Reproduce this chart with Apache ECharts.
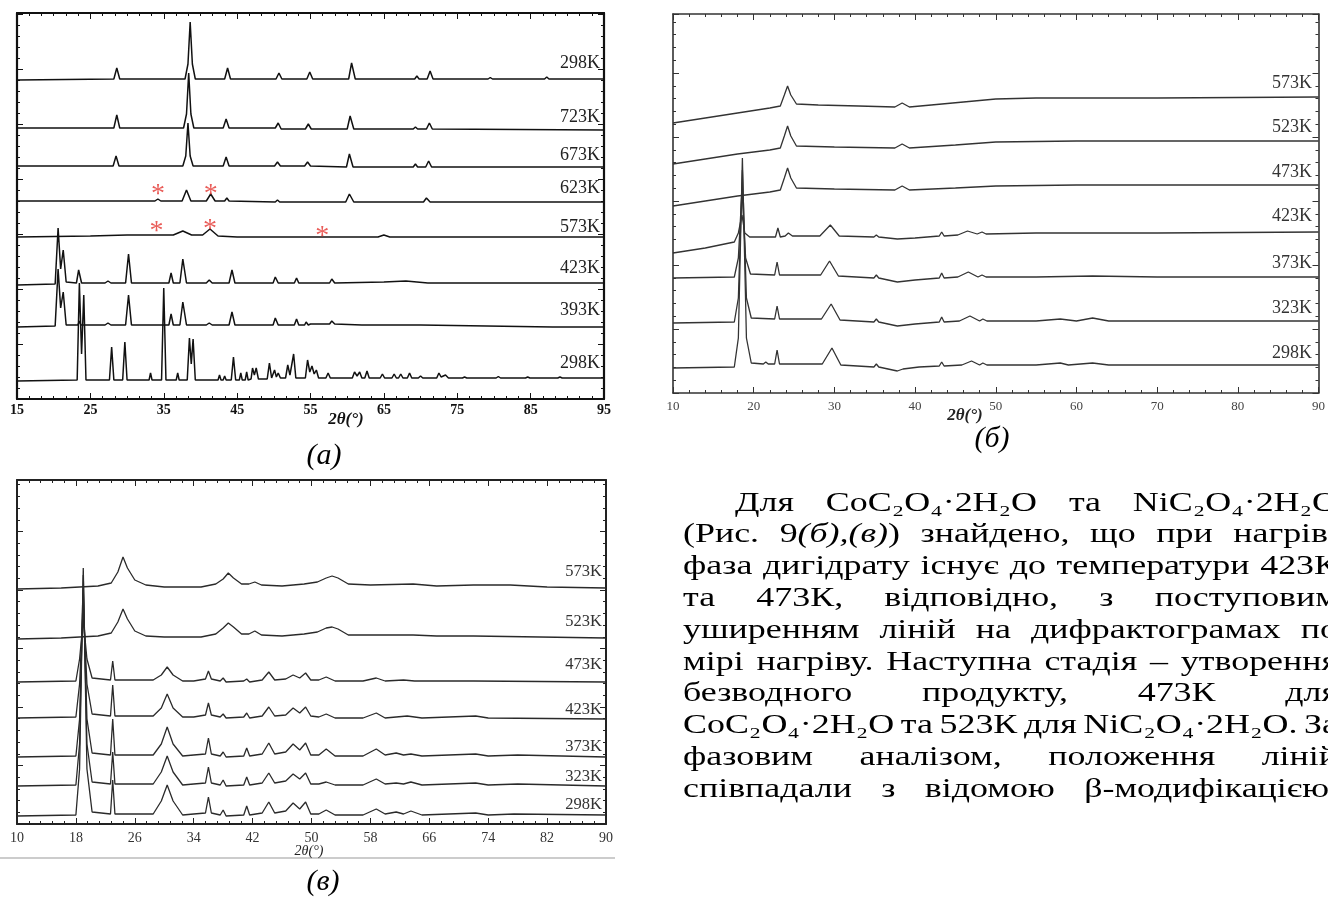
<!DOCTYPE html>
<html><head><meta charset="utf-8">
<script src="https://cdn.jsdelivr.net/npm/echarts/dist/echarts.min.js"></script>
<style>html,body{margin:0;padding:0;background:#fff}#c{width:1328px;height:897px}</style>
</head><body><div id="c"></div>
<script>
// ---------------- DATA (2θ in degrees, intensity in arbitrary stacked units) ----------------
// Panel (a)
const aLabels = ['298K','723K','673K','623K','573K','423K','393K','298K'];
const a298top = [[15,319],[28.2,320],[28.6,331],[29.0,320],[37.9,320],[38.3,335],[38.6,377],[38.9,335],[39.3,320],[43.3,320],[43.7,331],[44.1,320],[50.3,320],[50.7,326],[51.1,320],[54.5,320],[54.9,327],[55.3,320],[60.2,320],[60.6,336],[61.1,320],[69.2,320],[69.5,323],[69.8,320],[70.9,320],[71.3,328],[71.7,320],[72.6,320],[72.8,322],[73.0,320],[79.2,320],[79.5,321.5],[79.8,320],[86.9,320],[87.2,322],[87.5,320],[95,320]];
const a723 = [[15,271],[28.2,271],[28.6,284],[29.0,271],[37.7,271],[38.1,285],[38.4,326],[38.7,285],[39.1,271],[43.1,271],[43.5,280],[43.9,271],[50.2,271],[50.6,276],[51.0,270],[54.3,270],[54.7,275],[55.1,270],[60.0,270],[60.4,283],[60.9,270],[69.0,270],[69.3,272],[69.6,270],[70.8,270],[71.2,276],[71.6,270],[95,269]];
const a673 = [[15,233],[28.1,233],[28.5,243],[28.9,233],[37.6,233],[38.0,243],[38.3,276],[38.6,243],[39.0,233],[43.1,233],[43.5,242],[43.9,233],[50.1,233],[50.5,237],[50.9,233],[54.2,233],[54.6,237],[55.0,233],[59.9,232],[60.3,245],[60.8,232],[69.0,232],[69.3,235],[69.6,232],[70.7,232],[71.1,238],[71.5,232],[95,232]];
const a623 = [[15,198],[33.8,198],[34.2,200],[34.6,198],[37.5,198],[38.1,209],[38.7,198],[40.8,198],[41.4,205],[42.0,198],[43.3,198],[43.6,201],[43.9,198],[50.2,197],[50.5,199],[50.8,197],[59.8,197],[60.3,205],[60.9,197],[70.4,197],[70.8,201],[71.3,197],[95,197]];
const a573 = [[15,162],[25,163],[30,164],[36.3,164],[37.6,168],[38.8,164],[40.3,164],[41.3,170],[42.4,163],[45,162],[55,162],[64.2,162],[65,164],[65.8,162],[95,162]];
const a423 = [[15,114],[20.2,115],[20.6,171],[20.95,130],[21.3,149],[21.7,117],[23.1,116],[23.4,129],[23.8,116],[27.0,116],[27.4,118],[27.8,116],[29.8,116],[30.2,145],[30.6,116],[35.7,116],[36.0,126],[36.3,116],[37.2,116],[37.6,140],[38.1,116],[40.8,116],[41.2,119],[41.6,116],[43.9,116],[44.3,129],[44.7,116],[49.9,116],[50.2,122],[50.6,116],[52.8,116],[53.1,121],[53.4,116],[54.2,116],[54.4,118],[54.7,116],[56.3,116],[56.5,118],[56.7,116],[57.6,116],[57.9,120],[58.3,116],[65,117],[68,118],[71,116],[95,116]];
const a393 = [[15,72],[20.2,73],[20.6,130],[20.95,91],[21.3,107],[21.7,74],[23.3,74],[23.5,78],[23.7,74],[27.0,74],[27.4,76],[27.8,74],[29.8,74],[30.2,104],[30.6,74],[33.1,74],[33.3,76],[33.5,74],[35.7,74],[36.0,85],[36.3,74],[37.2,74],[37.6,97],[38.1,74],[40.8,74],[41.2,76],[41.6,74],[43.9,74],[44.3,87],[44.7,74],[49.9,74],[50.2,81],[50.6,74],[52.8,74],[53.1,80],[53.4,74],[54.2,74],[54.4,77],[54.7,74],[55.0,75],[55.2,77],[55.5,75],[57.6,75],[57.9,78],[58.3,75],[62,74],[70,74],[88,72],[95,72]];
const a298bot = [[15,18],[23.2,19],[23.5,116],[23.8,45],[24.1,104],[24.4,19],[27.6,19],[27.9,52],[28.2,19],[29.4,19],[29.7,57],[30.0,19],[33.0,19],[33.2,26],[33.4,19],[34.7,19],[35.0,111],[35.3,19],[36.7,19],[36.9,26],[37.1,19],[38.2,19],[38.5,61],[38.75,35],[39.0,60],[39.3,19],[42.4,19],[42.6,24],[42.8,19],[43.1,19],[43.3,23],[43.5,19],[44.2,19],[44.5,42],[44.8,19],[45.3,19],[45.5,26],[45.7,19],[46.1,19],[46.3,27],[46.5,19],[46.9,20],[47.1,31],[47.35,24],[47.6,31],[47.9,20],[49.1,20],[49.4,36],[49.7,21],[49.9,21],[50.1,29],[50.35,22],[50.6,26],[50.9,21],[51.6,21],[51.9,34],[52.2,24],[52.7,45],[53.0,21],[54.3,21],[54.6,39],[54.9,27],[55.2,33],[55.5,25],[55.8,29],[56.1,21],[57.1,21],[57.4,26],[57.7,21],[60.7,21],[61,27],[61.35,23],[61.7,27],[62.0,21],[62.4,21],[62.7,28],[63.0,21],[64.5,21],[64.8,25],[65.1,21],[66.1,21],[66.4,25],[66.7,21],[67.0,21],[67.3,25],[67.6,21],[68.2,21],[68.5,26],[68.8,21],[69.7,21],[70,23],[70.3,21],[72.2,21],[72.5,26],[72.8,22],[73.4,24],[73.8,21],[75.7,21],[76,22],[76.3,21],[80.3,21],[80.6,22.5],[80.9,21],[84.3,21],[84.6,22],[84.9,21],[88.7,21],[89,22],[89.3,21],[95,21]];
const aStars = [[34.2,211],[41.4,211],[34.0,174],[41.3,176],[56.6,169]];

// Panel (б)
const bLabels = ['573K','523K','473K','423K','373K','323K','298K'];
const b573 = [[10,270],[14,275],[18,280],[22,285],[23.3,287],[23.8,298],[24.2,307],[24.6,298],[25.3,289],[28,288],[33,287],[37.5,286],[38.4,290],[39.3,286],[42,288],[46,291],[50,294],[55,295],[70,295],[90,296]];
const b523 = [[10,229],[14,234],[18,239],[22,243],[23.3,245],[23.8,257],[24.2,267],[24.6,257],[25.3,247],[30,246],[37.5,245],[38.4,249],[39.3,245],[45,248],[50,251],[60,252],[90,252]];
const b473 = [[10,187],[14,192],[18,197],[22,201],[23.3,203],[23.8,215],[24.2,225],[24.6,215],[25.3,205],[30,204],[37.5,203],[38.4,207],[39.3,203],[45,205],[50,207],[60,208],[90,208]];
const b423 = [[10,140],[14,145],[17.6,151],[18.1,160],[18.55,178],[18.9,160],[19.5,156],[22.7,156],[23.0,165],[23.3,156],[23.9,157],[24.3,160],[24.8,157],[28.2,157],[29.5,168],[30.6,157],[34.9,156],[35.2,158],[35.5,156],[37.8,154],[40,155],[43.0,157],[43.3,161],[43.6,157],[45.3,158],[46.5,162],[47.7,159],[48.3,161],[48.8,159],[55,160],[70,160],[90,161]];
const b373 = [[10,115],[17.6,116],[18.1,135],[18.55,203],[19.0,135],[19.6,119],[22.6,118],[22.9,131],[23.2,118],[28.3,118],[29.4,132],[30.5,117],[34.9,115],[35.2,118],[35.5,115],[37.8,111],[40,113],[43.0,115],[43.3,120],[43.6,115],[45.3,116],[46.6,121],[47.8,116],[48.3,118],[48.8,116],[55,116],[62,117],[70,116],[90,116]];
const b323 = [[10,70],[17.6,71],[18.1,95],[18.6,223],[19.1,95],[19.7,75],[22.6,74],[22.9,87],[23.2,74],[28.4,74],[29.6,89],[30.7,73],[34.9,71],[35.2,74],[35.5,71],[37.8,67],[40,69],[43.0,71],[43.3,76],[43.6,71],[45.5,72],[46.8,77],[48.0,72],[48.4,74],[48.9,72],[55,72],[58,74],[60,72],[62,75],[64,72],[90,72]];
const b298 = [[10,25],[17.6,26],[18.1,55],[18.6,235],[19.1,55],[19.7,30],[21.2,29],[21.5,31],[21.8,29],[22.6,29],[22.9,43],[23.2,29],[28.5,29],[29.7,45],[30.8,28],[34.9,26],[35.2,29],[35.5,26],[37.8,22],[38.5,24],[40.5,26],[43.0,27],[43.3,31],[43.6,27],[45.8,28],[47.0,32],[48.0,28],[48.4,30],[48.9,28],[55,28],[58,30],[59,28],[62,30],[64,28],[90,28]];

// Panel (в)
const cLabels = ['573K','523K','473K','423K','373K','323K','298K'];
const c573 = [[10,235],[16,236],[21,238],[22.8,241],[23.7,252],[24.4,267],[25.0,256],[26.0,244],[27.5,239],[30,237],[35,237],[37.0,240],[38.0,245],[38.7,251],[39.4,246],[40.5,240],[41.5,240],[42.3,242],[43.2,239],[46,238],[49,240],[50.8,242],[52.0,246],[52.8,248],[53.6,246],[55,240],[58,239],[63.8,240],[67,238],[72,239],[77,239],[82,237],[90,236]];
const c523 = [[10,185],[16,186],[21,188],[22.8,191],[23.7,202],[24.4,215],[25.0,205],[26.0,193],[27.5,188],[30,187],[35,187],[37.0,190],[38.0,196],[38.7,201],[39.4,197],[40.5,190],[41.5,190],[42.3,193],[43.2,189],[46,188],[49,190],[50.8,192],[52.0,196],[52.8,197],[53.6,195],[55,189],[58,189],[63.8,189],[67,188],[72,188],[90,186]];
const c473 = [[10,142],[18.0,143],[18.5,165],[19.0,204],[19.5,165],[20.2,146],[22.7,144],[23.0,163],[23.3,144],[28.5,144],[29.6,149],[30.4,157],[31.2,149],[32.5,143],[34,143],[35.6,145],[36.0,153],[36.4,145],[37.6,143],[38.0,146],[38.4,142],[40.8,143],[41.2,145],[41.6,142],[43.3,144],[44.2,152],[45.0,144],[46.5,145],[47.5,149],[48.4,146],[49.2,151],[49.9,144],[51.0,144],[52.0,147],[53.2,143],[57,143],[58.8,146],[60,143],[62.5,144],[64,143],[72,143],[90,142]];
const c423 = [[10,106],[18.0,107],[18.5,140],[19.0,219],[19.5,140],[20.2,110],[22.7,108],[23.0,139],[23.3,108],[28.5,108],[29.6,116],[30.4,130],[31.2,116],[32.5,107],[34,107],[35.6,109],[36.0,121],[36.4,109],[37.6,107],[38.0,110],[38.4,106],[40.8,107],[41.2,111],[41.6,106],[43.3,108],[44.2,117],[45.0,108],[46.5,109],[47.5,116],[48.4,111],[49.2,117],[49.9,108],[51.0,107],[52.0,110],[53.2,106],[57,106],[58.8,111],[60,106],[63,108],[65,106],[72.3,108],[74,106],[90,105]];
const c373 = [[10,67],[18.0,68],[18.5,105],[19.0,234],[19.5,105],[20.2,71],[22.7,69],[23.0,105],[23.3,69],[28.5,69],[29.6,80],[30.4,97],[31.2,80],[32.5,68],[34,69],[35.6,70],[36.0,86],[36.4,70],[37.6,68],[38.0,72],[38.4,67],[40.8,68],[41.2,76],[41.6,68],[43.3,70],[44.2,81],[45.0,70],[46.5,72],[47.5,80],[48.4,74],[49.2,81],[49.9,69],[51.0,69],[52.0,75],[53.2,68],[57,68],[58.8,75],[60,69],[61.5,71],[62.5,69],[63.5,70],[65,68],[72.3,70],[74,68],[78,69],[90,67]];
const c323 = [[10,38],[18.0,39],[18.5,80],[19.0,249],[19.5,80],[20.2,42],[22.7,40],[23.0,72],[23.3,40],[28.5,40],[29.6,52],[30.4,68],[31.2,52],[32.5,39],[34,40],[35.6,41],[36.0,57],[36.4,41],[37.6,39],[38.0,44],[38.4,38],[40.8,39],[41.2,47],[41.6,39],[43.3,41],[44.2,51],[45.0,41],[46.5,43],[47.5,50],[48.4,45],[49.2,51],[49.9,40],[51.0,40],[52.0,42],[53.2,39],[57,39],[58.8,45],[60,40],[61.5,41],[62.5,40],[63.5,42],[65,39],[72.3,41],[74,39],[78,40],[90,38]];
const c298 = [[10,8],[18.0,9],[18.5,55],[19.0,256],[19.5,55],[20.2,12],[22.7,10],[23.0,44],[23.3,10],[28.5,10],[29.6,23],[30.4,39],[31.2,23],[32.5,9],[34,10],[35.6,11],[36.0,27],[36.4,11],[37.6,9],[38.0,14],[38.4,8],[40.8,9],[41.2,18],[41.6,9],[43.3,11],[44.2,22],[45.0,11],[46.5,13],[47.5,21],[48.4,15],[49.2,22],[49.9,10],[51.0,10],[52.0,14],[53.2,9],[57,9],[58.8,15],[60,10],[61.5,12],[62.5,10],[63.5,13],[65,9],[72.3,11],[74,9],[77.5,10],[90,9]];

// Paragraph text
const paraLines = [
  ['Для','CoC₂O₄·2H₂O','та','NiC₂O₄·2H₂O'],
  ['(Рис.', [['9',0],['(б),(в)',1],[')',0]], 'знайдено,','що','при','нагріві'],
  ['фаза','дигідрату','існує','до','температури','423К'],
  ['та','473К,','відповідно,','з','поступовим'],
  ['уширенням','ліній','на','дифрактограмах','по'],
  ['мірі','нагріву.','Наступна','стадія','–','утворення'],
  ['безводного','продукту,','473К','для'],
  ['CoC₂O₄·2H₂O','та','523К','для','NiC₂O₄·2H₂O.','За'],
  ['фазовим','аналізом,','положення','ліній'],
  ['співпадали','з','відомою','β-модифікацією.']
];

// ---------------- CHART ----------------
const chart = echarts.init(document.getElementById('c'), null, {renderer:'canvas'});
const SERIF = '"Liberation Serif","Times New Roman",serif';

const grids = [
  {left:17, top:13, width:587, height:386},
  {left:673, top:14, width:647, height:379},
  {left:17, top:480, width:589, height:344}
];
const panelCfg = [
  {xmin:15,xmax:95,xint:10,xsplit:6,ymax:386,yint:55,ysplit:5,color:'#111',bw:2.2,
   lab:{fontFamily:SERIF,fontWeight:'bold',fontSize:14,color:'#111',margin:4}},
  {xmin:10,xmax:90,xint:10,xsplit:5,ymax:379,yint:64,ysplit:5,color:'#333',bw:1.6,
   lab:{fontFamily:SERIF,fontSize:13,color:'#444',margin:7}},
  {xmin:10,xmax:90,xint:8,xsplit:5,ymax:344,yint:58.5,ysplit:5,color:'#222',bw:2,
   lab:{fontFamily:SERIF,fontSize:14,color:'#333',margin:7}}
];
const xAxes=[], yAxes=[];
panelCfg.forEach((p,i)=>{
  const common = {gridIndex:i, type:'value', splitLine:{show:false},
    axisLine:{show:true,onZero:false,lineStyle:{color:p.color,width:p.bw}},
    axisTick:{show:true,inside:true,length:6,lineStyle:{color:p.color,width:1}},
    minorTick:{show:true,splitNumber:p.xsplit,length:3,lineStyle:{color:p.color,width:1}}};
  xAxes.push(Object.assign({}, common, {position:'bottom', min:p.xmin, max:p.xmax, interval:p.xint,
    axisLabel:Object.assign({show:true}, p.lab)}));
  xAxes.push(Object.assign({}, common, {position:'top', min:p.xmin, max:p.xmax, interval:p.xint, axisLabel:{show:false}}));
  const yc = Object.assign({}, common, {min:0, max:p.ymax, interval:p.yint, axisLabel:{show:false},
    minorTick:{show:true,splitNumber:p.ysplit,length:3,lineStyle:{color:p.color,width:1}}});
  yAxes.push(Object.assign({}, yc, {position:'left'}));
  yAxes.push(Object.assign({}, yc, {position:'right'}));
});

const traces = [
  [0,[a298top,a723,a673,a623,a573,a423,a393,a298bot],'#111',1.5],
  [1,[b573,b523,b473,b423,b373,b323,b298],'#333',1.3],
  [2,[c573,c523,c473,c423,c373,c323,c298],'#2a2a2a',1.3]
];
const series=[];
traces.forEach(([gi,list,col,w])=>{
  list.forEach(d=>{
    series.push({type:'line', xAxisIndex:gi*2, yAxisIndex:gi*2, data:d, showSymbol:false, symbol:'none',
      lineStyle:{color:col,width:w}, silent:true, animation:false, z:3});
  });
});
series.push({type:'scatter', xAxisIndex:0, yAxisIndex:0, data:aStars, symbol:'circle', symbolSize:2,
  itemStyle:{color:'rgba(0,0,0,0)'}, silent:true, animation:false, z:5,
  label:{show:true, formatter:'*', position:'inside', offset:[0,7], color:'#e3342f', fontSize:28, fontFamily:SERIF}});

// ---------------- GRAPHIC TEXT ----------------
const graphic=[];
function txt(t,x,y,o,extra){
  graphic.push(Object.assign({type:'text', x:x, y:y, silent:true, z:10,
    style:Object.assign({text:t, fill:'#111', fontFamily:SERIF, fontSize:18, textAlign:'right', textVerticalAlign:'middle', align:'right', verticalAlign:'middle'}, o||{})}, extra||{}));
}
// temperature labels
const aY=[63,117,155,188,227,268,310,363];
aLabels.forEach((t,i)=>txt(t,600,aY[i],{fontSize:18,fill:'#222'}));
const bY=[83,127,172,216,263,308,353];
bLabels.forEach((t,i)=>txt(t,1312,bY[i],{fontSize:18,fill:'#333'}));
const cY=[572,622,665,710,747,777,805];
cLabels.forEach((t,i)=>txt(t,602,cY[i],{fontSize:16.5,fill:'#333'}));
// axis titles
txt('2θ(°)',346,420,{textAlign:'center',align:'center',fontSize:17,fontWeight:'bold',fontStyle:'italic'});
txt('2θ(°)',965,416,{textAlign:'center',align:'center',fontSize:17,fontWeight:'bold',fontStyle:'italic',fill:'#222'});
txt('2θ(°)',309,851,{textAlign:'center',align:'center',fontSize:14,fontStyle:'italic',fill:'#222'});
// panel letters
txt('(a)',324,456,{textAlign:'center',align:'center',fontSize:30,fontStyle:'italic',fill:'#000'});
txt('(б)',992,439,{textAlign:'center',align:'center',fontSize:30,fontStyle:'italic',fill:'#000'});
txt('(в)',323,882,{textAlign:'center',align:'center',fontSize:30,fontStyle:'italic',fill:'#000'});
// separator line under (в)
graphic.push({type:'line', silent:true, shape:{x1:0,y1:858,x2:615,y2:858}, style:{stroke:'#999',lineWidth:1}});

// paragraph, justified (text in the source is horizontally stretched)
const PF = 27, SX = 1.33, PX0 = 683, PX1 = 1338, PY0 = 503.5, PLH = 31.8, INDENT = 52;
const mctx = document.createElement('canvas').getContext('2d');
function segW(t,it){ mctx.font = (it?'italic ':'')+PF+'px '+SERIF; return mctx.measureText(t).width*SX; }
paraLines.forEach((words,li)=>{
  const x0 = PX0 + (li===0?INDENT:0);
  const ws = words.map(w=> typeof w==='string' ? segW(w,0) : w.reduce((s,sg)=>s+segW(sg[0],sg[1]),0));
  const total = ws.reduce((a,b)=>a+b,0);
  const gap = words.length>1 ? (PX1-x0-total)/(words.length-1) : 0;
  let x = x0;
  words.forEach((w,wi)=>{
    let style;
    if(typeof w==='string'){ style={text:w}; }
    else { style={text:w.map(sg=>'{'+(sg[1]?'i':'n')+'|'+sg[0]+'}').join(''),
      rich:{n:{fontFamily:SERIF,fontSize:PF,fill:'#000'},i:{fontFamily:SERIF,fontSize:PF,fontStyle:'italic',fill:'#000'}}}; }
    graphic.push({type:'text', x:x, y:PY0+li*PLH, scaleX:SX, scaleY:1, silent:true,
      style:Object.assign({fill:'#000', fontFamily:SERIF, fontSize:PF, textAlign:'left', align:'left', textVerticalAlign:'middle', verticalAlign:'middle'}, style)});
    x += ws[wi] + gap;
  });
});

chart.setOption({
  animation:false,
  backgroundColor:'#fff',
  grid:grids.map(g=>Object.assign({containLabel:false},g)),
  xAxis:xAxes, yAxis:yAxes, series:series, graphic:graphic
});
</script></body></html>
